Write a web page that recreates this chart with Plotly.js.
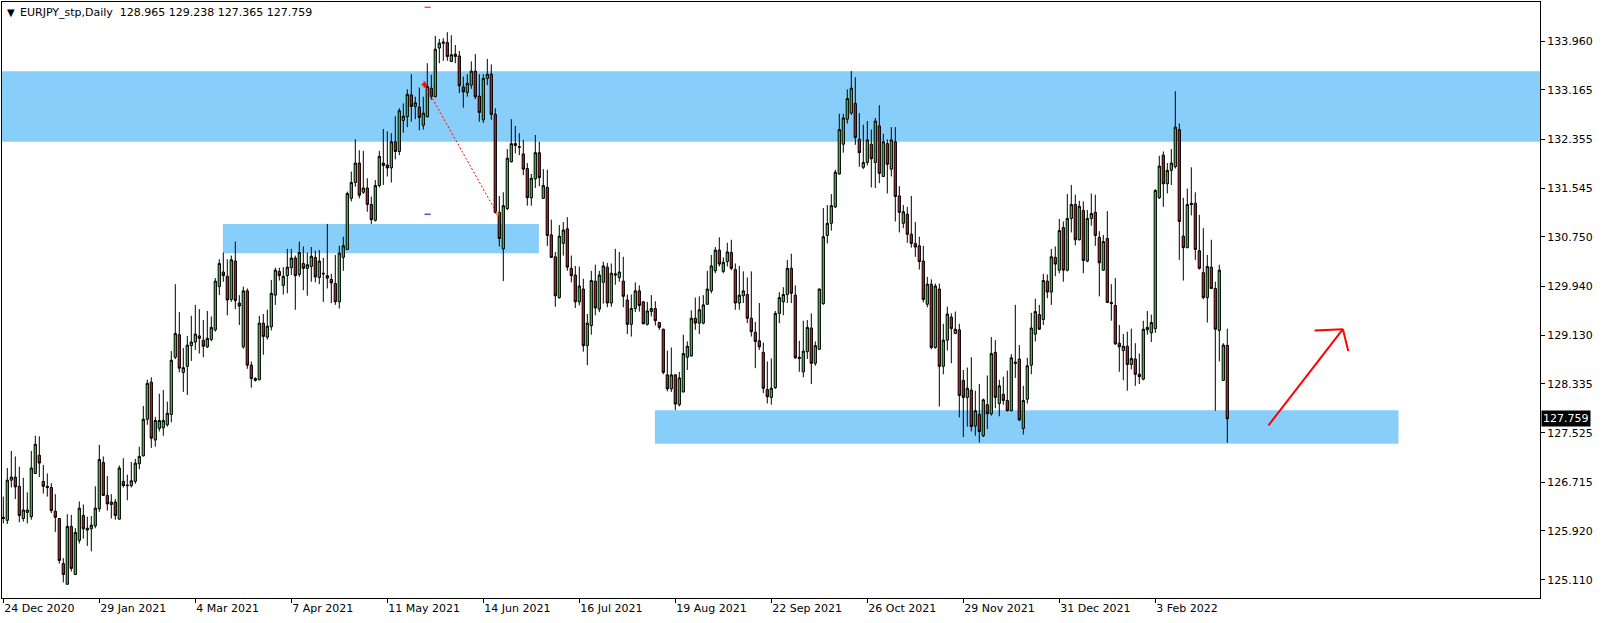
<!DOCTYPE html>
<html><head><meta charset="utf-8">
<script src="https://cdn.plot.ly/plotly-3.0.1.min.js"></script>
<style>html,body{margin:0;padding:0;background:#fff;overflow:hidden}#chart{width:1604px;height:623px}</style>
</head><body><div id="chart"></div>
<script>
const symbolTitle = 'EURJPY_stp,Daily  128.965 129.238 127.365 127.759';
const lastPrice = 127.759;

const openP = [
126.14,126.09,126.75,126.80,126.65,126.12,126.22,126.15,126.86,127.16,
126.73,126.65,126.63,126.24,126.12,125.38,125.04,125.99,125.20,125.76,
126.17,125.93,125.95,126.00,126.28,127.04,126.50,126.35,126.39,126.11,
126.73,126.67,126.66,126.73,127.02,127.15,127.75,128.36,127.41,127.60,
127.61,127.66,127.83,128.77,129.14,128.52,128.62,128.96,129.02,129.12,
129.05,128.94,129.06,129.22,129.93,130.17,130.10,129.72,130.35,129.66,
128.94,129.86,128.64,128.39,128.40,129.33,129.10,129.27,129.79,130.18,
129.95,130.11,130.24,130.40,130.13,130.31,130.23,130.26,130.41,130.08,
130.15,130.11,130.05,129.98,129.68,130.41,130.54,131.38,131.64,131.96,
131.48,131.55,131.28,131.02,131.59,131.96,131.93,131.88,132.31,132.15,
132.66,132.72,133.08,132.89,132.88,132.58,132.72,133.19,133.05,133.85,
133.95,133.94,133.63,133.75,133.72,133.21,133.12,133.24,133.47,133.06,
132.67,133.35,133.42,132.76,131.15,130.55,131.21,131.98,132.28,132.23,
132.11,131.87,131.39,131.70,132.13,131.38,131.56,130.78,130.42,129.75,
130.64,130.88,130.23,130.12,129.68,129.89,128.96,129.29,130.02,129.56,
130.00,130.25,129.66,130.14,130.08,130.02,129.71,129.31,129.57,129.86,
129.68,129.31,129.52,129.57,129.34,129.23,128.48,128.25,128.48,127.99,
128.20,128.77,128.79,129.41,129.33,129.33,129.64,129.86,130.19,130.53,
130.18,130.34,130.49,130.21,129.66,129.78,129.80,129.41,129.18,129.04,
128.85,128.24,128.11,128.27,129.49,129.68,129.80,130.23,129.79,128.77,
128.53,128.86,129.25,128.67,128.90,129.65,130.77,130.97,131.24,131.78,
132.27,132.68,132.78,132.94,132.35,131.89,131.97,132.27,131.97,132.57,
131.74,132.28,131.86,132.31,131.42,130.97,131.12,130.79,130.64,130.60,
130.35,129.64,129.97,128.93,129.89,128.62,129.05,129.43,129.16,129.22,
128.39,128.11,128.23,127.64,127.83,127.48,127.99,127.84,128.85,128.01,
128.16,128.06,127.89,128.69,128.74,127.60,128.08,128.64,129.15,129.47,
129.39,130.02,129.84,130.41,130.20,130.90,130.20,131.05,131.28,130.70,
131.18,130.35,131.05,131.15,130.74,130.20,130.72,129.67,129.62,129.00,
128.88,128.95,128.65,128.74,128.49,128.41,129.22,129.17,129.24,131.39,
132.09,131.62,131.84,131.90,132.51,130.76,130.57,131.30,131.30,130.52,
130.16,129.75,130.25,129.90,129.21,128.39,128.965];

const highP = [
126.48,126.95,127.23,127.14,126.97,126.79,126.55,127.23,127.48,127.47,
127.00,126.86,126.70,126.52,126.13,125.47,126.19,126.18,125.96,126.40,
126.35,126.15,126.16,126.65,127.33,127.14,126.82,126.52,126.44,126.99,
127.11,126.84,127.05,127.10,127.30,127.97,128.40,128.44,127.79,128.17,
128.23,128.04,128.87,129.97,129.51,128.92,129.12,129.45,129.63,129.56,
129.38,129.53,129.44,130.07,130.38,130.49,130.38,130.44,130.67,129.79,
129.93,129.90,128.70,128.44,129.45,129.48,129.55,130.04,130.24,130.24,
130.25,130.55,130.55,130.44,130.67,130.59,130.49,130.58,130.52,130.53,
130.40,130.96,130.14,130.45,130.60,130.75,131.49,131.82,132.35,132.17,
132.16,131.71,131.41,131.68,132.16,132.52,132.48,132.45,132.73,132.86,
132.94,133.17,133.42,133.05,133.20,133.05,133.60,133.41,134.05,134.00,
134.01,134.11,134.06,133.90,133.80,133.38,133.42,133.63,133.75,133.42,
133.42,133.67,133.58,132.86,131.42,131.48,132.19,132.68,132.57,132.45,
132.34,131.96,131.78,132.42,132.31,131.86,131.85,131.03,130.50,130.94,
130.99,131.07,130.44,130.27,130.26,130.06,129.48,130.19,130.29,130.19,
130.34,130.32,130.31,130.55,130.50,130.42,129.80,129.80,130.00,129.95,
129.69,129.68,129.79,129.69,129.35,129.24,128.88,128.93,128.49,128.53,
129.14,129.03,129.54,129.75,129.77,129.79,130.19,130.45,130.58,130.74,
130.41,130.65,130.70,130.31,130.27,130.18,130.08,130.18,129.35,129.66,
129.01,128.70,128.75,129.53,129.84,129.92,130.37,130.47,129.95,129.04,
129.37,129.38,129.49,129.03,129.90,131.22,131.27,131.45,131.85,132.77,
132.77,133.17,133.47,133.37,132.78,132.59,132.65,132.51,132.70,132.91,
132.44,132.35,132.55,132.55,131.58,131.27,131.24,131.42,130.99,130.75,
130.60,130.09,130.05,129.98,129.98,129.32,129.60,129.49,129.52,129.32,
128.56,128.60,128.77,128.22,128.33,128.09,128.47,129.10,129.05,128.40,
128.45,128.55,128.82,129.63,128.97,128.30,128.76,129.50,129.73,129.63,
130.14,130.13,130.55,130.59,131.04,131.00,131.45,131.60,131.44,131.34,
131.33,131.19,131.46,131.44,130.84,130.78,131.17,129.97,130.07,129.30,
129.15,129.19,129.24,129.00,128.83,129.37,129.53,129.47,131.53,132.08,
132.15,131.96,132.19,133.14,132.61,131.39,131.54,131.89,131.48,131.11,
130.89,130.45,130.70,130.01,130.29,129.00,129.238];

const lowP = [
126.04,126.03,126.63,126.44,126.06,126.07,126.04,126.10,126.85,126.80,
126.53,126.48,126.21,125.90,125.38,125.07,125.03,125.25,125.19,125.71,
125.79,125.67,125.58,125.96,126.23,126.49,126.25,126.12,126.10,126.10,
126.63,126.42,126.63,126.69,126.93,127.14,127.66,127.28,127.30,127.55,
127.48,127.63,127.70,128.74,128.52,128.20,128.15,128.71,128.89,128.83,
128.77,128.92,129.03,129.19,129.79,130.01,129.46,129.68,129.56,129.30,
128.91,128.58,128.27,128.37,128.39,128.81,129.06,129.21,129.63,130.03,
129.80,129.82,130.12,129.55,130.09,129.87,129.78,130.01,130.00,129.97,
129.68,129.90,129.66,129.63,129.57,130.19,130.53,131.33,131.57,131.38,
131.45,131.16,130.96,131.00,131.56,131.60,131.74,131.64,132.02,132.09,
132.46,132.55,132.64,132.68,132.50,132.51,132.71,133.00,133.04,133.60,
133.64,133.64,133.62,133.60,133.11,132.87,133.05,133.18,133.01,132.64,
132.62,133.24,132.67,131.13,130.59,130.02,131.19,131.97,132.12,132.09,
131.76,131.26,131.26,131.55,131.58,131.37,130.60,130.40,129.60,129.73,
130.44,130.19,130.00,129.58,129.62,128.86,128.64,129.14,129.46,129.51,
129.65,129.59,129.60,129.96,130.01,129.59,129.15,129.11,129.51,129.52,
129.31,129.29,129.44,129.29,129.22,128.49,128.21,128.20,127.90,127.96,
128.19,128.56,128.78,129.22,129.15,129.31,129.63,129.82,130.15,130.26,
130.15,130.26,130.20,129.55,129.55,129.66,129.33,129.11,128.59,128.89,
128.18,128.01,127.99,128.25,129.33,129.46,129.66,129.66,128.74,128.53,
128.44,128.74,128.33,128.63,128.89,129.63,130.64,130.85,131.22,131.77,
132.13,132.61,132.75,132.26,131.90,131.86,131.92,131.56,131.55,131.63,
131.73,131.46,131.74,131.00,130.82,130.89,130.65,130.57,130.42,130.21,
129.67,129.59,128.90,128.91,127.96,128.49,128.88,128.67,129.15,127.78,
127.46,127.63,127.55,127.48,127.37,127.46,127.59,127.81,127.93,127.80,
127.99,127.88,127.88,128.43,127.72,127.50,128.01,128.49,129.03,129.22,
129.30,129.74,129.63,130.10,130.15,130.01,130.18,130.82,130.61,130.69,
130.15,130.33,130.93,130.60,129.77,130.19,129.66,129.37,128.97,128.53,
128.39,128.22,128.57,128.30,128.33,128.39,129.14,129.02,129.17,131.37,
131.24,131.46,131.60,131.87,130.37,130.03,130.56,131.10,130.37,130.21,
129.72,129.34,129.89,127.89,128.70,128.38,127.365];

const closeP = [
126.12,126.75,126.80,126.64,126.17,126.26,126.26,126.95,127.34,127.03,
126.65,126.63,126.25,126.14,125.43,125.20,125.99,125.30,125.89,126.29,
125.95,125.96,126.01,126.29,127.09,126.50,126.36,126.39,126.17,126.95,
126.66,126.66,126.74,127.03,127.14,127.75,128.34,127.44,127.73,127.73,
127.73,127.85,128.72,129.16,128.59,128.60,128.97,129.02,129.15,129.08,
128.95,129.08,129.26,130.02,130.31,130.11,129.71,130.37,129.70,129.61,
129.86,128.64,128.42,128.42,129.33,129.11,129.28,129.82,130.20,130.11,
130.10,130.25,130.40,130.11,130.49,130.23,130.29,130.43,130.09,130.35,
130.14,130.07,129.99,129.68,130.48,130.60,131.46,131.64,131.96,131.43,
131.55,131.28,131.03,131.59,132.07,131.92,131.88,132.31,132.15,132.82,
132.73,133.09,132.89,132.95,132.71,132.78,133.22,133.05,133.83,133.93,
133.93,133.71,133.74,133.71,133.23,133.13,133.27,133.47,133.05,132.79,
133.35,133.42,132.76,131.15,130.72,131.26,132.04,132.28,132.25,132.22,
131.86,131.39,131.71,132.13,131.72,131.59,130.77,130.41,129.78,130.76,
130.86,130.25,130.11,129.68,129.94,128.96,129.33,130.03,129.58,130.12,
130.27,129.66,130.15,130.12,130.17,129.77,129.31,129.57,129.86,129.62,
129.32,129.53,129.57,129.37,129.26,128.52,128.25,128.48,128.00,128.43,
128.83,128.95,129.41,129.33,129.55,129.63,129.89,130.27,130.53,130.30,
130.33,130.50,130.23,129.66,129.79,129.86,129.41,129.19,129.03,128.94,
128.26,128.12,128.26,129.49,129.75,129.80,130.23,129.82,128.76,128.75,
128.87,129.26,128.67,128.96,129.89,130.75,130.97,131.26,131.81,132.51,
132.70,133.02,133.19,132.38,132.13,131.97,132.34,132.03,132.65,131.79,
132.31,131.94,132.34,131.41,131.15,131.16,130.79,130.64,130.58,130.34,
129.72,129.97,128.93,129.94,128.62,129.05,129.48,129.24,129.23,128.14,
128.11,128.26,127.63,127.89,127.55,128.07,127.84,128.83,128.11,128.30,
128.06,127.89,128.76,128.67,127.74,128.06,128.63,129.25,129.52,129.23,
130.03,129.84,130.42,130.30,130.85,130.20,131.05,131.28,130.70,131.25,
130.36,131.05,131.13,130.77,130.32,130.67,129.67,129.65,128.99,128.94,
128.95,128.65,128.75,128.49,128.45,129.23,129.26,129.34,131.51,131.91,
131.62,131.84,131.96,132.55,131.00,130.57,131.28,131.28,130.54,130.23,
129.75,130.26,129.90,129.23,130.20,128.97,127.759];

const dateTickBars = [0,24,48,72,96,120,144,168,192,216,240,264,288];
const dateTickLabels = ['24 Dec 2020','29 Jan 2021','4 Mar 2021','7 Apr 2021','11 May 2021','14 Jun 2021','16 Jul 2021','19 Aug 2021','22 Sep 2021','26 Oct 2021','29 Nov 2021','31 Dec 2021','3 Feb 2022'];
const priceTicks = [133.960,133.165,132.355,131.545,130.750,129.940,129.130,128.335,127.525,126.715,125.920,125.110];
const priceTickLabels = ['133.960','133.165','132.355','131.545','130.750','129.940','129.130','128.335','127.525','126.715','125.920','125.110'];

const barIndex = openP.map((_, i) => i);
const FONT = 'DejaVu Sans, Verdana, sans-serif';

const trace = {
  type: 'candlestick', x: barIndex,
  open: openP, high: highP, low: lowP, close: closeP,
  increasing: {line: {color: '#000000', width: 1}, fillcolor: '#32cd32'},
  decreasing: {line: {color: '#000000', width: 1}, fillcolor: '#dc1414'},
  whiskerwidth: 0, hoverinfo: 'skip', showlegend: false
};

const blue = '#87cefa';
const shapes = [
  {type:'rect', layer:'below', xref:'paper', x0:0, x1:1, yref:'y', y0:132.31, y1:133.47, fillcolor:blue, line:{width:0}},
  {type:'rect', layer:'below', xref:'x', x0:54.9, x1:133.9, yref:'y', y0:130.48, y1:130.96, fillcolor:blue, line:{width:0}},
  {type:'rect', layer:'below', xref:'x', x0:162.9, x1:348.8, yref:'y', y0:127.35, y1:127.90, fillcolor:blue, line:{width:0}},
  {type:'line', xref:'x', yref:'y', x0:105.3, y0:133.25, x1:123.35, y1:131.14, line:{color:'#ff0000', width:1, dash:'2px,2px'}},
  {type:'line', xref:'x', yref:'y', x0:104.6, y0:133.25, x1:106.0, y1:133.25, line:{color:'#ff0000', width:2}},
  {type:'line', xref:'x', yref:'y', x0:105.3, y0:133.20, x1:105.3, y1:133.30, line:{color:'#ff0000', width:2}},
  {type:'rect', xref:'x', yref:'y', x0:123.2, x1:123.8, y0:131.10, y1:131.16, fillcolor:'#f0a030', line:{width:0}},
  {type:'line', xref:'x', yref:'y', x0:105.3, y0:134.52, x1:106.85, y1:134.52, line:{color:'#ff0000', width:1}},
  {type:'line', xref:'x', yref:'y', x0:105.3, y0:131.12, x1:106.85, y1:131.12, line:{color:'#0000c8', width:1}},
  {type:'line', xref:'x', yref:'y', x0:316.3, y0:127.65, x1:334.9, y1:129.23, line:{color:'#ff0000', width:2}},
  {type:'line', xref:'x', yref:'y', x0:334.9, y0:129.23, x1:327.8, y1:129.21, line:{color:'#ff0000', width:2}},
  {type:'line', xref:'x', yref:'y', x0:334.9, y0:129.23, x1:336.25, y1:128.87, line:{color:'#ff0000', width:2}}
];

const annotations = [
  {xref:'paper', yref:'paper', x:0.0018, y:0.982, xanchor:'left', yanchor:'middle', showarrow:false,
   text:'▼', font:{family:FONT, size:10, color:'#000'}},
  {xref:'paper', yref:'paper', x:0.0102, y:0.982, xanchor:'left', yanchor:'middle', showarrow:false,
   text:symbolTitle, font:{family:FONT, size:11, color:'#000'}},
  {xref:'paper', yref:'y', x:1, xshift:1, y:lastPrice, xanchor:'left', yanchor:'middle', showarrow:false,
   text:lastPrice.toFixed(3), bgcolor:'#000', borderpad:1, font:{family:FONT, size:11, color:'#fff'}}
];

const layout = {
  width: 1604, height: 623,
  margin: {l: 2, r: 64, t: 2, b: 25},
  paper_bgcolor: '#fff', plot_bgcolor: '#fff',
  showlegend: false, dragmode: false, hovermode: false,
  boxgap: 0.25, boxgroupgap: 0.25,
  xaxis: {
    type: 'linear', range: [-0.325, 384.175],
    tickvals: dateTickBars, ticktext: dateTickLabels,
    ticks: 'outside', ticklen: 4, tickcolor: '#000', tickwidth: 1,
    ticklabelposition: 'outside right',
    showgrid: false, zeroline: false,
    showline: true, mirror: true, linecolor: '#000', linewidth: 1,
    rangeslider: {visible: false}, fixedrange: true,
    tickfont: {family: FONT, size: 11, color: '#000'}
  },
  yaxis: {
    side: 'right', range: [124.814, 134.606],
    tickvals: priceTicks, ticktext: priceTickLabels,
    ticks: 'outside', ticklen: 4, tickcolor: '#000', tickwidth: 1,
    showgrid: false, zeroline: false,
    showline: true, mirror: true, linecolor: '#000', linewidth: 1,
    fixedrange: true,
    tickfont: {family: FONT, size: 11, color: '#000'}
  },
  shapes: shapes,
  annotations: annotations
};

Plotly.newPlot('chart', [trace], layout, {displayModeBar: false, staticPlot: true});
</script>
</body></html>
